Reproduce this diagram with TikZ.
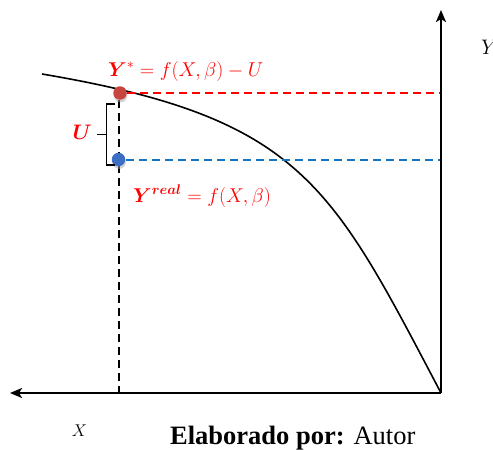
\documentclass[tikz,border=0pt]{standalone}
\usepackage{fix-cm}
\usepackage{amsmath,bm}
\usepackage{fontspec}
\setmainfont{Liberation Serif}
\usetikzlibrary{arrows.meta,shadows}
\definecolor{txtred}{RGB}{255,0,0}
\definecolor{dotred}{RGB}{200,68,64}
\definecolor{dotblue}{RGB}{60,110,195}
\definecolor{lineblue}{RGB}{20,115,195}
\tikzset{
  axis/.style={line width=2.2pt,-{Stealth[length=12pt,width=10pt,inset=3pt]}},
  curveline/.style={line width=1.6pt},
  guide/.style={line width=1.6pt,dash pattern=on 8pt off 5pt},
  dot/.style={circle,inner sep=0pt,minimum size=13.5pt,
    drop shadow={shadow xshift=0.6pt,shadow yshift=-2.6pt,fill=black!35}},
  lab/.style={inner sep=0pt,anchor=base west},
  redlab/.style={lab,text=txtred,font=\fontsize{20}{24}\selectfont},
}
\begin{document}
\begin{tikzpicture}[x=1pt,y=-1pt]
\useasboundingbox (0,0) rectangle (493,450);
\coordinate (O) at (441,393);
\coordinate (Ytip) at (441,10);
\coordinate (Xtip) at (10,393);
\coordinate (ry) at (441,93);
\coordinate (by) at (441,160);
\coordinate (xb) at (119,393);
\coordinate (cs) at (42,74);
% curve
\draw[curveline] (cs) .. controls (302,118) and (331,184) .. (O);
% guides
\draw[guide,color=txtred] (127,93) -- (ry);
\draw[guide,color=lineblue] (126,160) -- (by);
\draw[guide,color=black] (119,100) -- (xb);
% axes
\draw[axis] (O) -- (Ytip);
\draw[axis] (O) -- (Xtip);
% dots
\node[dot,fill=dotred] (rdot) at (120,93) {};
\node[dot,fill=dotblue] (bdot) at (118.5,159.5) {};
% brace
\draw[line width=1.8pt] (115,104) -- (106.5,104) -- (106.5,165) -- (115,165);
\draw[line width=1.8pt] (106.5,134.5) -- (97,134.5);
% labels
\node[redlab] (ystar) at (108,76) {$\bm{Y}^{*}=f(X,\beta)-U$};
\node[redlab] (yreal) at (133,202) {$\bm{Y^{real}}=f(X,\beta)$};
\node[redlab,font=\fontsize{21}{25}\selectfont] (ulab) at (72.5,139.3) {$\bm{U}$};
\node[lab,font=\fontsize{21}{25}\selectfont] (ylab) at (481,54) {$Y$};
\node[lab,font=\fontsize{17}{20}\selectfont] (xlab) at (71.7,436) {$X$};
\node[lab,font=\fontsize{26.5}{30}\selectfont] (cap) at (170,444) {\textbf{Elaborado por:} Autor};
\end{tikzpicture}
\end{document}
